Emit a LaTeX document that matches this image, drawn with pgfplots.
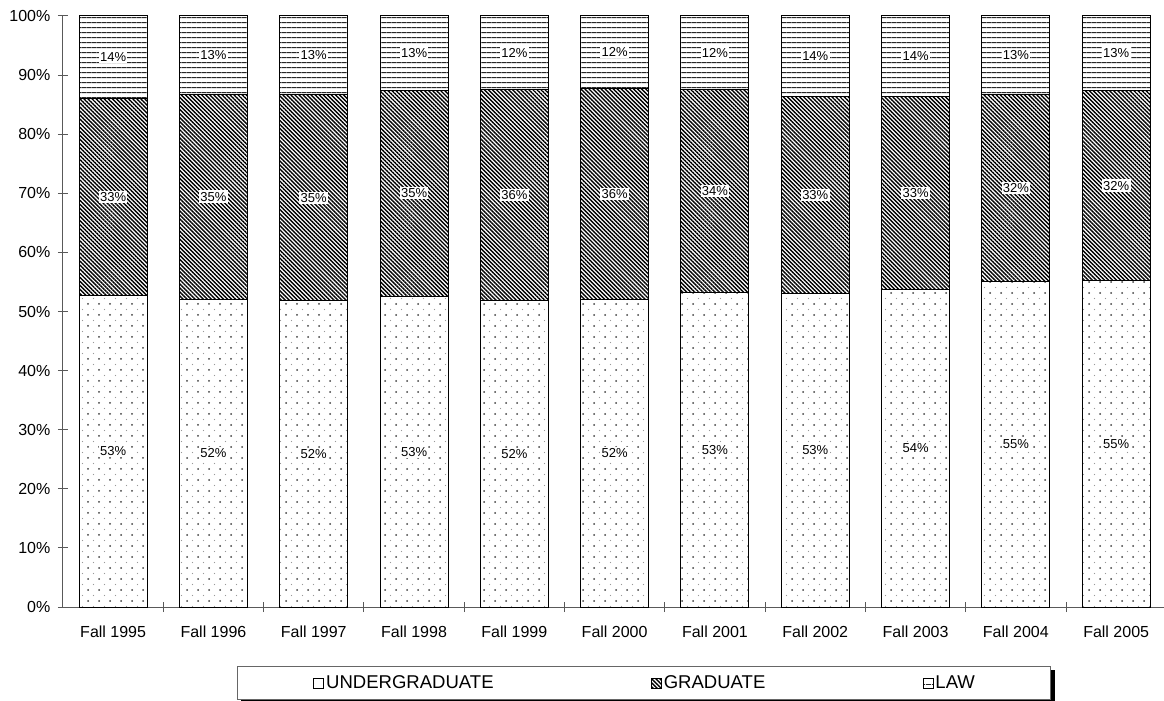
\documentclass[border=0pt]{standalone}
\usepackage{fontspec}
\setmainfont{Liberation Sans}
\usepackage{pgfplots}
\pgfplotsset{compat=1.18}
\usepackage{pgfplotstable}
\usetikzlibrary{patterns.meta,shadows}

\makeatletter
\tikzset{nopreactions/.code={\let\tikz@preactions\pgfutil@empty}}
\makeatother

\pgfplotstableread{
x U G L
0 52.7 33.4 13.9
1 52.1 34.7 13.2
2 51.8 34.9 13.3
3 52.6 34.8 12.6
4 51.8 35.8 12.4
5 52.0 35.8 12.2
6 53.2 34.4 12.4
7 53.0 33.4 13.6
8 53.7 32.7 13.6
9 55.0 31.7 13.3
10 55.2 32.2 12.6
}\datatable

\tikzset{
  ugpat/.style={draw=black, line width=0.75pt, fill=white,
    postaction={pattern={Dots[distance=8.25pt,radius=0.75pt]}, pattern color=black!75},
    postaction={pattern={Dots[distance=8.25pt,radius=0.5pt,xshift=4.125pt,yshift=4.125pt]}, pattern color=black!40}},
  grpat/.style={draw=black, line width=0.75pt, fill=white,
    postaction={pattern={Lines[angle=-45,distance=2.15pt,line width=1.05pt]}, pattern color=black}},
  lawpat/.style={draw=black, line width=0.75pt, fill=white,
    postaction={pattern={Lines[angle=0,distance=4pt,line width=0.7pt]}, pattern color=black!85}},
}

\pgfplotsset{
  baseaxis/.style={scale only axis, width=825.75pt, height=443.25pt,
    xmin=-0.5, xmax=10.477, ymin=0, ymax=100, at={(0,0)}, anchor=south west},
  mylegend/.style={legend image code/.code={\draw[nopreactions, ##1, line width=0.5pt] (0pt,-3.75pt) rectangle (7.5pt,3.75pt);}},
}

\begin{document}
\begin{tikzpicture}
\begin{axis}[baseaxis, ybar stacked, bar width=51pt,
  axis x line=bottom, axis y line=left,
  axis line style={-, black!65, line width=0.75pt},
  tick align=center, major tick length=7.5pt,
  tick style={black!65, line width=0.75pt},
  ytick={0,10,...,100},
  yticklabels={0\%,10\%,20\%,30\%,40\%,50\%,60\%,70\%,80\%,90\%,100\%},
  xtick={0.5,1.5,...,9.5}, xticklabels={},
  extra x ticks={0,1,...,10},
  extra x tick labels={Fall 1995,Fall 1996,Fall 1997,Fall 1998,Fall 1999,Fall 2000,Fall 2001,Fall 2002,Fall 2003,Fall 2004,Fall 2005},
  extra x tick style={major tick length=0pt},
  ticklabel style={font=\fontsize{12}{14}\selectfont, text=black},
  xticklabel style={yshift=-11pt},
  yticklabel style={xshift=-2.25pt},
  legend columns=3,
  legend style={at={(axis description cs:0.158,-0.0998)}, anchor=north west,
    draw=black!60, line width=0.75pt, fill=white,
    inner xsep=57pt, inner ysep=6.8pt,
    nodes={inner sep=0pt, font=\fontsize{13.9}{16}\selectfont},
    column sep=0pt,
    general shadow={fill=black, draw=black, shadow xshift=3pt, shadow yshift=-3pt}},
]
\addplot[ugpat, mylegend] table[x=x, y=U]{\datatable};
\addlegendentry{\makebox[245.25pt][l]{\hspace{1.5pt}UNDERGRADUATE}}
\addplot[grpat, mylegend] table[x=x, y=G]{\datatable};
\addlegendentry{\makebox[195.75pt][l]{\hspace{1.5pt}GRADUATE}}
\addplot[lawpat, mylegend] table[x=x, y=L]{\datatable};
\addlegendentry{\hspace{1.5pt}LAW}
\end{axis}

\begin{axis}[baseaxis, hide axis,
  point meta=explicit,
  /pgf/number format/assume math mode=true,
  nodes near coords={\pgfmathprintnumber[fixed,precision=0,assume math mode=true]{\pgfplotspointmeta}\%},
  every node near coord/.append style={anchor=center, fill=white, inner xsep=1pt, inner ysep=1.2pt,
    font=\fontsize{9.75}{11}\selectfont, text=black}]
\addplot[draw=none, mark=none] table[x=x, y expr=\thisrow{U}/2, meta=U]{\datatable};
\addplot[draw=none, mark=none] table[x=x, y expr=\thisrow{U}+\thisrow{G}/2, meta=G]{\datatable};
\addplot[draw=none, mark=none] table[x=x, y expr=\thisrow{U}+\thisrow{G}+\thisrow{L}/2, meta=L]{\datatable};
\end{axis}

\pgfresetboundingbox
\path[use as bounding box] (-47.25pt,-69.75pt) rectangle (825.75pt,455.25pt);
\end{tikzpicture}
\end{document}
